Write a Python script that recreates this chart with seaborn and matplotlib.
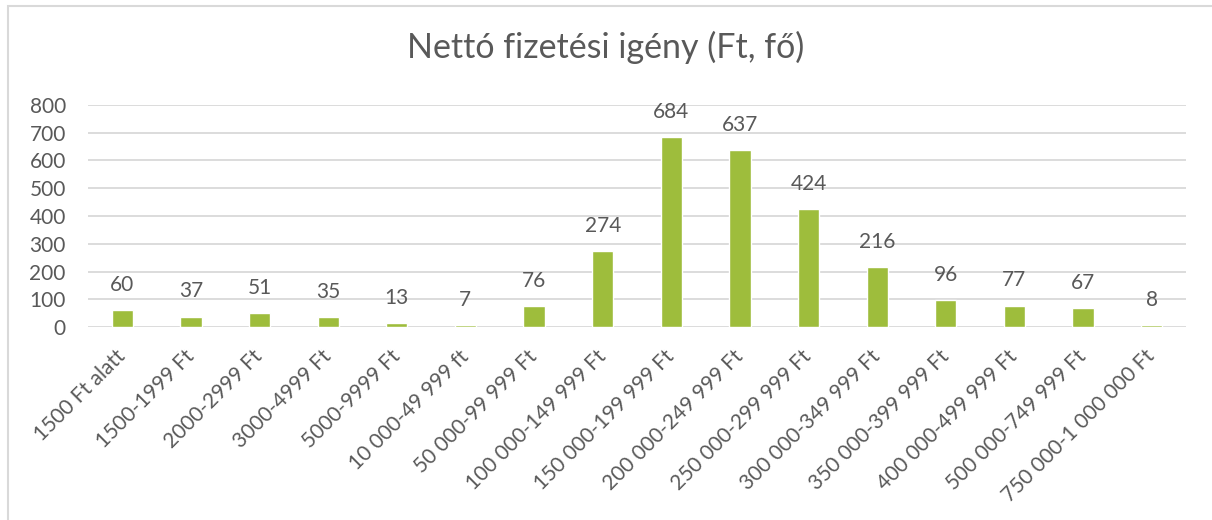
import matplotlib
matplotlib.use("Agg")
import matplotlib.pyplot as plt
import matplotlib.patches as mpatches
import seaborn as sns
import pandas as pd

categories = ["1500 Ft alatt", "1500-1999 Ft", "2000-2999 Ft", "3000-4999 Ft",
              "5000-9999 Ft", "10 000-49 999 ft", "50 000-99 999 Ft",
              "100 000-149 999 Ft", "150 000-199 999 Ft", "200 000-249 999 Ft",
              "250 000-299 999 Ft", "300 000-349 999 Ft", "350 000-399 999 Ft",
              "400 000-499 999 Ft", "500 000-749 999 Ft", "750 000-1 000 000 Ft"]
values = [60, 37, 51, 35, 13, 7, 76, 274, 684, 637, 424, 216, 96, 77, 67, 8]
yticks = [0, 100, 200, 300, 400, 500, 600, 700, 800]
title = "Nettó fizetési igény (Ft, fő)"

sns.set_theme(style="white")
plt.rcParams['font.family'] = ['Lato', 'DejaVu Sans']
txt = "#595959"
grid = "#D9D9D9"

df = pd.DataFrame({"kat": categories, "fo": values})

fig = plt.figure(figsize=(12.12, 5.2), dpi=100)
ax = fig.add_axes([88 / 1212, 1 - 327 / 520, 1098 / 1212, 222 / 520])

sns.barplot(data=df, x="kat", y="fo", color="#9EBD3C", width=0.31,
            saturation=1, ax=ax, zorder=3)

ax.set_ylim(0, 800)
ax.set_yticks(yticks)
ax.yaxis.grid(True, color=grid, linewidth=1.3, zorder=0)
ax.set_axisbelow(True)
for s in ax.spines.values():
    s.set_visible(False)
ax.set_xlabel("")
ax.set_ylabel("")
ax.tick_params(axis="both", length=0, colors=txt, labelsize=15)
ax.tick_params(axis="y", pad=16)
ax.tick_params(axis="x", pad=19)
plt.setp(ax.get_xticklabels(), rotation=45, ha="right", va="center",
         rotation_mode="anchor")
ax.set_xlim(-0.5, len(categories) - 0.5)

for i, v in enumerate(values):
    ax.annotate(str(v), (i, v), xytext=(0, 11), textcoords="offset points",
                ha="center", va="bottom", fontsize=15, color=txt)

fig.text(0.5, 0.908, title, ha="center", va="center", fontsize=24.5, color=txt)

# chart frame
fig.patches.append(mpatches.Rectangle((8 / 1212, -0.05), 1.1, 0.05 + (520 - 6) / 520,
                                      transform=fig.transFigure, fill=False,
                                      edgecolor=grid, linewidth=1.5))

fig.savefig("out.png", dpi=100)
